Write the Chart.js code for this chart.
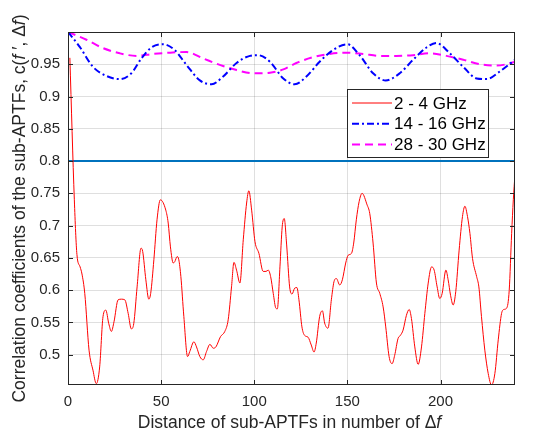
<!DOCTYPE html>
<html>
<head>
<meta charset="utf-8">
<script src="https://cdn.jsdelivr.net/npm/chart.js@4.4.1/dist/chart.umd.min.js"></script>
<style>
  html, body { margin: 0; padding: 0; background: #fff; }
  #wrap { width: 533px; height: 434px; position: relative; }
</style>
</head>
<body>
<div id="wrap"><canvas id="corrChart"></canvas></div>
<script>
// data: [distance, correlation]
const band2to4 = [
    [1, 0.96], [3.4, 0.74], [4.8, 0.655], [6.5, 0.636], [7.5, 0.625], [9, 0.595], [11.3, 0.507],
    [13.4, 0.476], [15.2, 0.455], [17, 0.481], [18.8, 0.559], [20.3, 0.569], [21.9, 0.548],
    [23.3, 0.536], [24.7, 0.551], [26.9, 0.585], [28.7, 0.586], [30.5, 0.585], [32.3, 0.564],
    [34, 0.54], [35.3, 0.548], [37.1, 0.605], [39.2, 0.665], [40.1, 0.66], [41.8, 0.616],
    [43.4, 0.586], [44.4, 0.595], [46.1, 0.647], [47.8, 0.709], [49.6, 0.74], [52.5, 0.724],
    [53.8, 0.704], [55, 0.667], [56.5, 0.642], [57.3, 0.644], [58.6, 0.652], [59.5, 0.647],
    [60.6, 0.621], [62.2, 0.559], [64.2, 0.497], [65.4, 0.505], [67.6, 0.52], [69, 0.512],
    [70.8, 0.497], [72.6, 0.492], [74.4, 0.505], [76.2, 0.516], [78, 0.51], [79.4, 0.512],
    [81.9, 0.528], [84.2, 0.536], [86, 0.554], [87.8, 0.605], [89.1, 0.643], [90.5, 0.631],
    [92.3, 0.611], [94.1, 0.678], [95.9, 0.735], [97.1, 0.754], [98.6, 0.724], [100.4, 0.675],
    [102.5, 0.657], [104.8, 0.629], [106.3, 0.629], [107.5, 0.631], [108.8, 0.621],
    [110.2, 0.595], [111.6, 0.572], [112.4, 0.571], [113.8, 0.636], [115, 0.698], [116.1, 0.711],
    [117.4, 0.67], [119, 0.605], [120.3, 0.594], [121.7, 0.603], [122.9, 0.604], [124, 0.585],
    [125.6, 0.543], [127, 0.53], [128.9, 0.527], [130.6, 0.515], [132.1, 0.504], [133.3, 0.518],
    [135.1, 0.559], [136.6, 0.568], [137.8, 0.549], [139.6, 0.541], [141.4, 0.585],
    [142.8, 0.613], [144.1, 0.618], [145.9, 0.608], [147.3, 0.616], [149.1, 0.642],
    [150.4, 0.654], [152.2, 0.657], [153.4, 0.673], [154.8, 0.709], [156.3, 0.737], [157.9, 0.75],
    [160.6, 0.732], [162, 0.719], [163.8, 0.673], [165.6, 0.611], [167.4, 0.595], [169.2, 0.574],
    [170.6, 0.543], [172.4, 0.497], [174, 0.486], [175.4, 0.499], [177.2, 0.525], [178.5, 0.53],
    [179.9, 0.538], [181.7, 0.561], [183.2, 0.57], [184.4, 0.556], [186.2, 0.512], [188, 0.485],
    [189.8, 0.512], [191.6, 0.564], [193.4, 0.611], [195.2, 0.636], [196.6, 0.631],
    [198.2, 0.605], [199.6, 0.587], [200.9, 0.595], [202.9, 0.631], [204.1, 0.616],
    [205.4, 0.592], [206.8, 0.577], [208.2, 0.598], [210, 0.662], [211.8, 0.714], [213.1, 0.73],
    [214.5, 0.714], [215.8, 0.688], [217.2, 0.649], [219.4, 0.621], [220.6, 0.605], [222, 0.559],
    [223.8, 0.507], [225.6, 0.471], [227.4, 0.453], [229.2, 0.471], [231, 0.523], [232.8, 0.564],
    [234, 0.57], [235.5, 0.572], [236.9, 0.6], [238.2, 0.688], [239.1, 0.74], [240, 0.78]
];

const band14to16 = [
    [0, 1.0], [6.3, 0.977], [13.4, 0.946], [20.6, 0.932], [27.8, 0.927], [34, 0.936],
    [39.4, 0.959], [44.8, 0.976], [51.1, 0.981], [57.3, 0.972], [63.6, 0.949], [70.8, 0.925],
    [77.1, 0.919], [83.3, 0.931], [90.5, 0.952], [97.7, 0.963], [102.2, 0.964], [108.4, 0.954],
    [115.6, 0.928], [121.7, 0.919], [128, 0.931], [135.1, 0.954], [142.3, 0.972], [150, 0.981],
    [156.6, 0.964], [163.8, 0.936], [170.6, 0.925], [178.1, 0.936], [185.3, 0.957],
    [192.5, 0.976], [197.8, 0.983], [205, 0.967], [212.2, 0.946], [219.4, 0.928],
    [224.7, 0.927], [231.9, 0.939], [240, 0.957]
];

const band28to30 = [
    [0, 1.0], [9.9, 0.988], [18.8, 0.975], [27.8, 0.967], [36.7, 0.963], [45.7, 0.966],
    [54.7, 0.968], [63.6, 0.969], [72.6, 0.959], [81.5, 0.949], [90.5, 0.941], [99.5, 0.936],
    [108.4, 0.937], [115.6, 0.942], [122.6, 0.952], [131.6, 0.961], [140.5, 0.966],
    [149.5, 0.968], [158.4, 0.966], [167.4, 0.963], [176.3, 0.963], [185.3, 0.964],
    [194.3, 0.967], [203.2, 0.963], [212.2, 0.957], [221.1, 0.95], [230.1, 0.948],
    [239.1, 0.953], [240, 0.954]
];

const thresholdX = [0, 240];
const thresholdY = [0.8, 0.8];

const seriesLabels = ['2 - 4 GHz', '14 - 16 GHz', '28 - 30 GHz'];
const xTicks = [0, 50, 100, 150, 200];
const yTicks = [0.5, 0.55, 0.6, 0.65, 0.7, 0.75, 0.8, 0.85, 0.9, 0.95];

// axis titles, split so the f can be italic
const xTitleParts = [['Distance of sub-APTFs in number of \u0394', false], ['f', true]];
const yTitleParts = [
    ['Correlation coefficients of the sub-APTFs, c(', false], ['f', true],
    [' \u2032, \u0394', false], ['f', true], [')', false]
];

const FONT = '"Liberation Sans", Arial, Helvetica, sans-serif';
const AXIS_COLOR = '#262626';

const toPoints = (pairs) => pairs.map(p => ({ x: p[0], y: p[1] }));

function drawParts(ctx, parts, size) {
    let total = 0;
    const widths = parts.map(([text, italic]) => {
        ctx.font = (italic ? 'italic ' : '') + size + 'px ' + FONT;
        const w = ctx.measureText(text).width;
        total += w;
        return w;
    });
    let cx = -total / 2;
    parts.forEach(([text, italic], i) => {
        ctx.font = (italic ? 'italic ' : '') + size + 'px ' + FONT;
        ctx.fillText(text, cx, 0);
        cx += widths[i];
    });
}

const axisTitles = {
    id: 'axisTitles',
    afterDraw(chart) {
        const { ctx, chartArea: a } = chart;
        ctx.save();
        ctx.fillStyle = AXIS_COLOR;
        ctx.textBaseline = 'middle';
        ctx.textAlign = 'left';
        ctx.translate((a.left + a.right) / 2 - 2, a.bottom + 38);
        drawParts(ctx, xTitleParts, 17.5);
        ctx.restore();

        ctx.save();
        ctx.fillStyle = AXIS_COLOR;
        ctx.textBaseline = 'middle';
        ctx.textAlign = 'left';
        ctx.translate(20, (a.top + a.bottom) / 2);
        ctx.rotate(-Math.PI / 2);
        drawParts(ctx, yTitleParts, 17.5);
        ctx.restore();
    }
};

// box around the axes with inward tick marks on all four sides
const frameTicks = {
    id: 'frameTicks',
    afterDatasetsDraw(chart) {
        const { ctx, chartArea: a, scales } = chart;
        ctx.save();
        ctx.strokeStyle = AXIS_COLOR;
        ctx.lineWidth = 1;
        ctx.beginPath();
        scales.x.ticks.forEach(t => {
            const px = Math.round(scales.x.getPixelForValue(t.value)) + 0.5;
            ctx.moveTo(px, a.bottom); ctx.lineTo(px, a.bottom - 5);
            ctx.moveTo(px, a.top); ctx.lineTo(px, a.top + 5);
        });
        scales.y.ticks.forEach(t => {
            const py = Math.round(scales.y.getPixelForValue(t.value)) + 0.5;
            ctx.moveTo(a.left, py); ctx.lineTo(a.left + 5, py);
            ctx.moveTo(a.right, py); ctx.lineTo(a.right - 5, py);
        });
        ctx.stroke();
        ctx.strokeRect(Math.round(a.left) + 0.5, Math.round(a.top) + 0.5,
            Math.round(a.width) - 1, Math.round(a.height) - 1);
        ctx.restore();
    }
};

const boxLegend = {
    id: 'boxLegend',
    afterDraw(chart) {
        const { ctx, chartArea: a } = chart;
        const items = chart.data.datasets.filter(d => d.inLegend);
        const left = a.right - 168, top = a.top + 57, w = 141, h = 68;
        ctx.save();
        ctx.fillStyle = '#fff';
        ctx.fillRect(left, top, w, h);
        ctx.strokeStyle = AXIS_COLOR;
        ctx.lineWidth = 1;
        ctx.strokeRect(left + 0.5, top + 0.5, w, h);
        ctx.font = '17px ' + FONT;
        ctx.textBaseline = 'middle';
        ctx.fillStyle = '#000';
        items.forEach((d, i) => {
            const yy = top + 14 + i * 20.8;
            ctx.beginPath();
            ctx.setLineDash(d.borderDash || []);
            ctx.strokeStyle = d.borderColor;
            ctx.lineWidth = d.borderWidth;
            ctx.moveTo(left + 5, yy);
            ctx.lineTo(left + 45, yy);
            ctx.stroke();
            ctx.setLineDash([]);
            ctx.fillText(d.label, left + 47, yy + 1);
        });
        ctx.restore();
    }
};

new Chart(document.getElementById('corrChart'), {
    type: 'line',
    data: {
        datasets: [
            {
                label: seriesLabels[0],
                data: toPoints(band2to4),
                borderColor: '#ff0000',
                borderWidth: 1,
                cubicInterpolationMode: 'monotone',
                inLegend: true
            },
            {
                label: seriesLabels[1],
                data: toPoints(band14to16),
                borderColor: '#0000ff',
                borderWidth: 2,
                borderDash: [7, 3, 2, 3],
                cubicInterpolationMode: 'monotone',
                inLegend: true
            },
            {
                label: seriesLabels[2],
                data: toPoints(band28to30),
                borderColor: '#ff00ff',
                borderWidth: 2,
                borderDash: [8, 5],
                cubicInterpolationMode: 'monotone',
                inLegend: true
            },
            {
                label: 'threshold',
                data: thresholdX.map((x, i) => ({ x: x, y: thresholdY[i] })),
                borderColor: '#0072bd',
                borderWidth: 2,
                inLegend: false
            }
        ]
    },
    options: {
        responsive: true,
        maintainAspectRatio: false,
        animation: false,
        parsing: false,
        elements: { point: { radius: 0 } },
        layout: { padding: { top: 32, right: 18, bottom: 0, left: 0 } },
        plugins: {
            legend: { display: false },
            tooltip: { enabled: false }
        },
        scales: {
            x: {
                type: 'linear',
                min: 0,
                max: 240,
                afterBuildTicks: (scale) => { scale.ticks = xTicks.map(v => ({ value: v })); },
                afterFit: (scale) => { scale.height = 49; },
                border: { display: false },
                grid: { color: 'rgba(38,38,38,0.15)', drawTicks: false },
                ticks: {
                    padding: 8,
                    color: AXIS_COLOR,
                    font: { family: FONT, size: 15 },
                    maxRotation: 0,
                    callback: (v) => String(v)
                }
            },
            y: {
                type: 'linear',
                min: 0.453,
                max: 1.0,
                afterBuildTicks: (scale) => { scale.ticks = yTicks.map(v => ({ value: v })); },
                afterFit: (scale) => { scale.width = 68; },
                border: { display: false },
                grid: { color: 'rgba(38,38,38,0.15)', drawTicks: false },
                ticks: {
                    padding: 8,
                    color: AXIS_COLOR,
                    font: { family: FONT, size: 15 },
                    callback: (v) => String(v)
                }
            }
        }
    },
    plugins: [frameTicks, axisTitles, boxLegend]
});
</script>
</body>
</html>
